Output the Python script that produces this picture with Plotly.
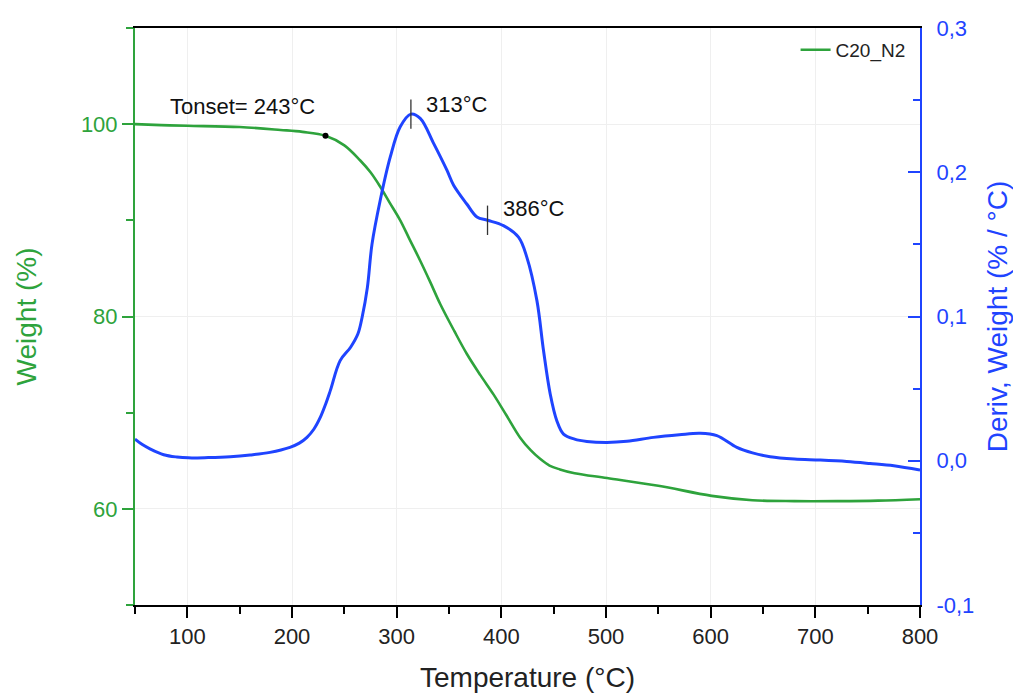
import numpy as np
import plotly.graph_objects as go

# Weight curve (green, left axis)
temp_w = [50, 75, 100, 150, 189, 210, 232, 250, 265, 275, 284.3, 293, 303.4, 312, 322.5, 332,
          341.6, 355, 367.1, 380, 392.5, 405, 418, 428, 437, 446, 456, 470, 501, 550, 601, 640,
          680, 721, 760, 800]
weight = [100.0, 99.9, 99.83, 99.7, 99.4, 99.2, 98.8, 97.8, 96.25, 95.0, 93.5, 91.9, 90.0, 88.1,
          85.8, 83.6, 81.3, 78.5, 76.1, 73.9, 71.9, 69.7, 67.4, 66.1, 65.2, 64.5, 64.1, 63.7, 63.2,
          62.4, 61.35, 60.9, 60.8, 60.8, 60.85, 61.0]

# Derivative curve (blue, right axis)
temp_d = [50, 57, 64.7, 77.4, 90, 101, 120, 141, 160, 179, 198, 207, 214.3, 221, 227, 232, 236.6,
          246, 256, 263, 267, 272, 276.4, 284.3, 293.9, 303.4, 313.6, 322.5, 335.3, 348, 354.4,
          367, 376.7, 386.8, 402, 416.4, 424.4, 434, 440.3, 446.7, 453, 459.4, 470, 481.7, 500.8,
          520, 545.3, 570, 590, 605.9, 625, 640, 656.8, 680, 704.5, 730, 752.3, 775, 800]
deriv = [0.0150, 0.0112, 0.0081, 0.0042, 0.0026, 0.0020, 0.0022, 0.0028, 0.0040, 0.0058, 0.0093,
         0.0122, 0.0162, 0.0220, 0.0300, 0.0390, 0.0486, 0.0694, 0.0787, 0.0880, 0.0995, 0.1200,
         0.1500, 0.1806, 0.2106, 0.2315, 0.2403, 0.2373, 0.2200, 0.2014, 0.1910, 0.1780, 0.1690,
         0.1667, 0.1630, 0.1550, 0.1410, 0.1110, 0.0764, 0.0463, 0.0278, 0.0185, 0.0150, 0.0134,
         0.0127, 0.0135, 0.0162, 0.0180, 0.0190, 0.0174, 0.0093, 0.0055, 0.0028, 0.0012, 0.0005,
         -0.0005, -0.0019, -0.0035, -0.0065]

onset_T = [232]
peak_T = [313.6, 386.8]
peak_labels = ["313°C", "386°C"]
onset_label = "Tonset= 243°C"

x_ticks = [100, 200, 300, 400, 500, 600, 700, 800]
y2_vals = [-0.1, 0.0, 0.1, 0.2, 0.3]
y2_text = ["-0,1", "0,0", "0,1", "0,2", "0,3"]

GREEN = "#2ea33c"
BLUE = "#1f44ff"
FONT = "Liberation Sans, Arial, sans-serif"

fig = go.Figure()
fig.add_trace(go.Scatter(x=temp_w, y=weight, mode="lines", name="C20_N2",
                         line=dict(color=GREEN, width=2.6, shape="spline", smoothing=1.0)))
fig.add_trace(go.Scatter(x=temp_d, y=deriv, mode="lines", name="deriv", showlegend=False,
                         yaxis="y2",
                         line=dict(color=BLUE, width=3, shape="spline", smoothing=1.0)))
# onset dot
fig.add_trace(go.Scatter(x=onset_T, y=list(np.interp(onset_T, temp_w, weight)), mode="markers",
                         showlegend=False, marker=dict(color="black", size=6)))
# peak tick markers
fig.add_trace(go.Scatter(x=peak_T, y=list(np.interp(peak_T, temp_d, deriv)), mode="markers",
                         yaxis="y2", showlegend=False,
                         marker=dict(symbol="line-ns", size=21,
                                     line=dict(color="#333333", width=1.3))))

fig.add_annotation(x=81.9, y=101.8, xref="x", yref="y", text=onset_label, showarrow=False,
                   xanchor="left", yanchor="middle", font=dict(size=22, color="#111111"))
fig.add_annotation(x=326, y=0.2472, xref="x", yref="y2", text=peak_labels[0], showarrow=False,
                   xanchor="left", yanchor="middle", font=dict(size=22, color="#111111"))
fig.add_annotation(x=400, y=0.175, xref="x", yref="y2", text=peak_labels[1], showarrow=False,
                   xanchor="left", yanchor="middle", font=dict(size=22, color="#111111"))

fig.update_layout(
    width=1013, height=693,
    margin=dict(l=135, r=93, t=28, b=88, autoexpand=False),
    paper_bgcolor="white", plot_bgcolor="white",
    font=dict(family=FONT, size=22, color="#222222"),
    separators=",.",
    showlegend=True,
    legend=dict(x=0.988, y=0.995, xanchor="right", yanchor="top", bgcolor="rgba(0,0,0,0)",
                font=dict(size=19, color="#222222")),
    xaxis=dict(range=[50, 800], tickvals=x_ticks, showgrid=True, gridcolor="#efefef",
               gridwidth=1, zeroline=False, automargin=False,
               showline=True, linecolor="black", linewidth=2, mirror=True,
               ticks="outside", ticklen=11, tickwidth=2, tickcolor="black",
               minor=dict(dtick=50, tick0=0, ticks="outside", ticklen=7, tickwidth=2,
                          tickcolor="black", showgrid=False),
               tickfont=dict(size=22, color="#222222"),
               title=dict(text="Temperature (°C)", font=dict(size=28, color="#222222"),
                          standoff=22)),
    yaxis=dict(range=[50, 110], tick0=0, dtick=20, showgrid=True, gridcolor="#efefef",
               zeroline=False, automargin=False,
               showline=True, linecolor=GREEN, linewidth=2,
               ticks="outside", ticklen=11, tickwidth=2, tickcolor=GREEN,
               minor=dict(dtick=10, tick0=0, ticks="outside", ticklen=7, tickwidth=2,
                          tickcolor=GREEN, showgrid=False),
               tickfont=dict(size=22, color=GREEN),
               title=dict(text="Weight (%)", font=dict(size=28, color=GREEN), standoff=36)),
    yaxis2=dict(range=[-0.1, 0.3], overlaying="y", side="right", tickvals=y2_vals,
                ticktext=y2_text, showgrid=False, zeroline=False, automargin=False,
                showline=True, linecolor=BLUE, linewidth=2,
                ticks="inside", ticklen=12, tickwidth=2, tickcolor=BLUE,
                ticklabelstandoff=10,
                minor=dict(dtick=0.05, tick0=0, ticks="inside", ticklen=7, tickwidth=2,
                           tickcolor=BLUE, showgrid=False),
                tickfont=dict(size=22, color=BLUE),
                title=dict(text="Deriv, Weight (% / °C)", font=dict(size=28, color=BLUE),
                           standoff=14)),
)

fig.write_html("out.html")
